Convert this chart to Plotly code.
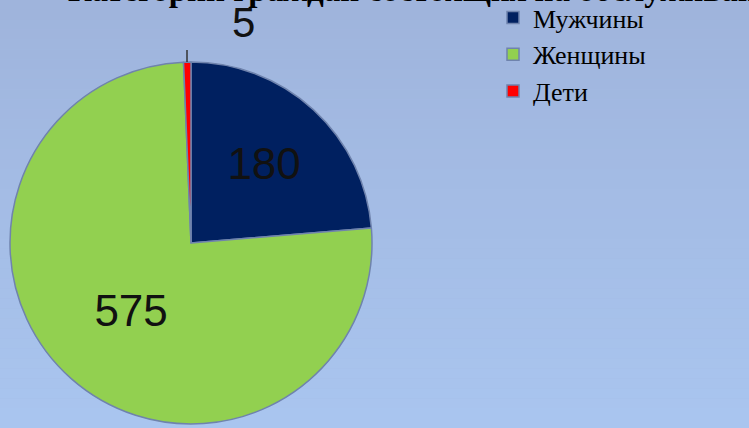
import plotly.graph_objects as go

categories = ["Мужчины", "Женщины", "Дети"]
values = [180, 575, 5]
colors = ["#002060", "#92D050", "#FF0000"]
title_text = "Категории граждан состоящих на обслуживании"

W, H = 749, 428

fig = go.Figure()

# label text: inside for big slices, small slice label added as annotation
texts = [str(v) for v in values[:2]] + [""]

fig.add_trace(go.Pie(
    labels=categories,
    values=values,
    sort=False,
    direction="clockwise",
    rotation=0,
    marker=dict(colors=colors, line=dict(color="#6F83AD", width=1.5)),
    text=texts,
    textinfo="text",
    textposition="inside",
    insidetextorientation="horizontal",
    insidetextfont=dict(family="Liberation Sans, Arial", size=44, color="#111111"),
    hoverinfo="label+value",
    domain=dict(x=[(191 - 181) / W, (191 + 181) / W], y=[4 / H, 366 / H]),
))

# background gradient bands
shapes = []
n = 43
c0 = (159, 180, 220)
c1 = (169, 197, 239)
for i in range(n):
    t = i / (n - 1)
    c = tuple(round(c0[k] + (c1[k] - c0[k]) * t) for k in range(3))
    shapes.append(dict(type="rect", xref="paper", yref="paper", layer="below",
                       x0=0, x1=1, y0=1 - (i + 1) / n, y1=1 - i / n,
                       fillcolor="rgb(%d,%d,%d)" % c, line=dict(width=0)))

# leader line for the small slice
shapes.append(dict(type="line", xref="paper", yref="paper",
                   x0=187 / W, x1=187 / W, y0=1 - 62 / H, y1=1 - 50 / H,
                   line=dict(color="#333333", width=1.5)))

annotations = [
    dict(text="<b>" + title_text + "</b>", xref="paper", yref="paper", x=66 / W, y=1 - 10 / H,
         xanchor="left", yanchor="bottom", showarrow=False,
         font=dict(family="Liberation Serif, Times New Roman", size=33, color="#000000")),
    dict(text=str(values[2]), xref="paper", yref="paper", x=243 / W, y=1 - 23 / H,
         xanchor="center", yanchor="middle", showarrow=False,
         font=dict(family="Liberation Sans, Arial", size=42, color="#111111")),
]

fig.update_layout(
    width=W, height=H,
    margin=dict(l=0, r=0, t=0, b=0, autoexpand=False),
    paper_bgcolor="#A3BBE4",
    plot_bgcolor="rgba(0,0,0,0)",
    shapes=shapes,
    annotations=annotations,
    showlegend=True,
    legend=dict(x=493 / W, y=1 + 6 / H, xanchor="left", yanchor="top",
                bgcolor="rgba(0,0,0,0)", itemwidth=30,
                font=dict(family="Liberation Serif, Times New Roman", size=26, color="#000000")),
)

fig.write_html("out.html", config={"displayModeBar": False},
               post_script="document.body.style.margin='0';")
